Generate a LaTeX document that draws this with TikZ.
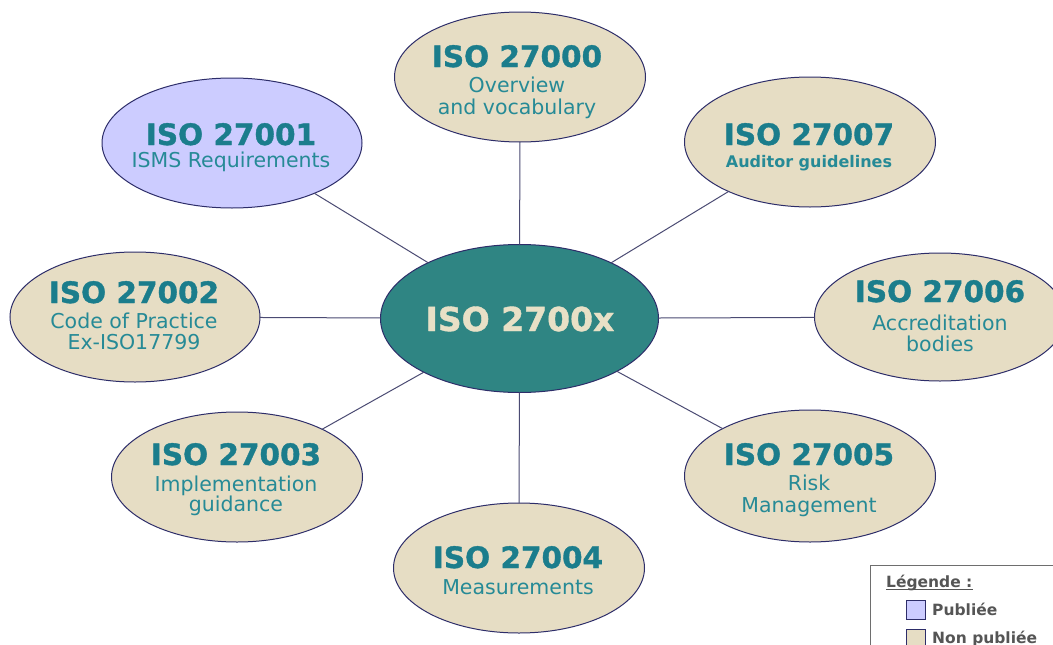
\documentclass[tikz,border=0pt]{standalone}
\usepackage{fontspec}
\setmainfont{DejaVu Sans}
\newfontfamily\heavyfont{DejaVu Sans Bold}[FakeBold=1.2]
\usetikzlibrary{shapes.geometric}
\definecolor{beige}{RGB}{230,221,196}
\definecolor{lav}{RGB}{204,204,255}
\definecolor{tealc}{RGB}{47,133,131}
\definecolor{ctext}{RGB}{232,224,198}
\definecolor{ttlc}{RGB}{27,125,140}
\definecolor{subc}{RGB}{38,138,150}
\definecolor{navy}{RGB}{45,45,105}
\definecolor{linkc}{RGB}{75,75,115}
\definecolor{leggrey}{RGB}{85,85,85}
\definecolor{legline}{RGB}{110,110,110}
\begin{document}
\begin{tikzpicture}[x=1pt,y=-1pt,
  bub/.style={ellipse, draw=navy, line width=1pt, fill=beige, inner sep=0pt, outer sep=0pt, minimum width=251pt, minimum height=130pt},
  pub/.style={bub, fill=lav},
  ttl/.style={anchor=base, inner sep=0pt, text=ttlc, font=\fontsize{29.5}{32}\heavyfont},
  sub/.style={anchor=base, inner sep=0pt, text=subc, font=\fontsize{20.5}{23}\selectfont},
  subb/.style={anchor=base, inner sep=0pt, text=subc, font=\fontsize{16}{19}\selectfont\bfseries},
  link/.style={draw=linkc, line width=1pt},
  legtxt/.style={anchor=base west, inner sep=0pt, text=leggrey, font=\fontsize{15.5}{18}\selectfont\bfseries},
  legsq/.style={draw=navy, line width=1pt, minimum size=19pt, inner sep=0pt, outer sep=0pt, anchor=north west}
]
\useasboundingbox (0,0) rectangle (1053,645);
\clip (0,0) rectangle (1053,645);
\fill[white] (0,0) rectangle (1053,645);

% ellipses
\node[bub, minimum width=278pt, minimum height=148pt, fill=tealc] (c) at (519.5,318.5) {};
\node[bub] (e0) at (520,77) {};
\node[pub, minimum width=260pt] (e1) at (232,143) {};
\node[bub] (e7) at (810,142) {};
\node[bub, minimum width=250pt] (e2) at (135,317) {};
\node[bub, minimum height=128pt] (e6) at (940,317) {};
\node[bub] (e3) at (237,477) {};
\node[bub, minimum height=132pt] (e5) at (810,476) {};
\node[bub] (e4) at (519,568) {};

% connectors
\foreach \n in {e0,e1,e7,e2,e6,e3,e5,e4} \draw[link] (c) -- (\n);

% texts
\node[anchor=base, inner sep=0pt, text=ctext, font=\fontsize{33}{36}\heavyfont] (tc) at (520,331) {ISO 2700x};
\node[ttl] (t0) at (517,67) {ISO 27000};
\node[sub] (s0a) at (517,92) {Overview};
\node[sub] (s0b) at (517,114) {and vocabulary};
\node[ttl] (t1) at (231,145) {ISO 27001};
\node[sub] (s1) at (231,167) {ISMS Requirements};
\node[ttl] (t7) at (809,145) {ISO 27007};
\node[subb] (s7) at (809,167) {Auditor guidelines};
\node[ttl] (t2) at (134,303) {ISO 27002};
\node[sub] (s2a) at (134,328) {Code of Practice};
\node[sub] (s2b) at (134,349) {Ex-ISO17799};
\node[ttl] (t6) at (940,302) {ISO 27006};
\node[sub] (s6a) at (940,330) {Accreditation};
\node[sub] (s6b) at (940,351) {bodies};
\node[ttl] (t3) at (236,465) {ISO 27003};
\node[sub] (s3a) at (236,491) {Implementation};
\node[sub] (s3b) at (236,511) {guidance};
\node[ttl] (t5) at (809,465) {ISO 27005};
\node[sub] (s5a) at (809,490) {Risk};
\node[sub] (s5b) at (809,512) {Management};
\node[ttl] (t4) at (518,568) {ISO 27004};
\node[sub] (s4) at (518,594) {Measurements};

% legend
\filldraw[fill=white, draw=legline, line width=1pt] (870,565) rectangle (1080,680);
\node[legtxt] (lt) at (886,587) {Légende :};
\draw[leggrey, line width=1pt] ([yshift=-2.5pt]lt.base west) -- ([yshift=-2.5pt]lt.base east);
\node[legsq, fill=lav] (q1) at (906,600) {};
\node[legsq, fill=beige] (q2) at (906,629) {};
\node[legtxt] (l1) at (932,615) {Publiée};
\node[legtxt] (l2) at (932,643) {Non publiée};
\end{tikzpicture}
\end{document}
